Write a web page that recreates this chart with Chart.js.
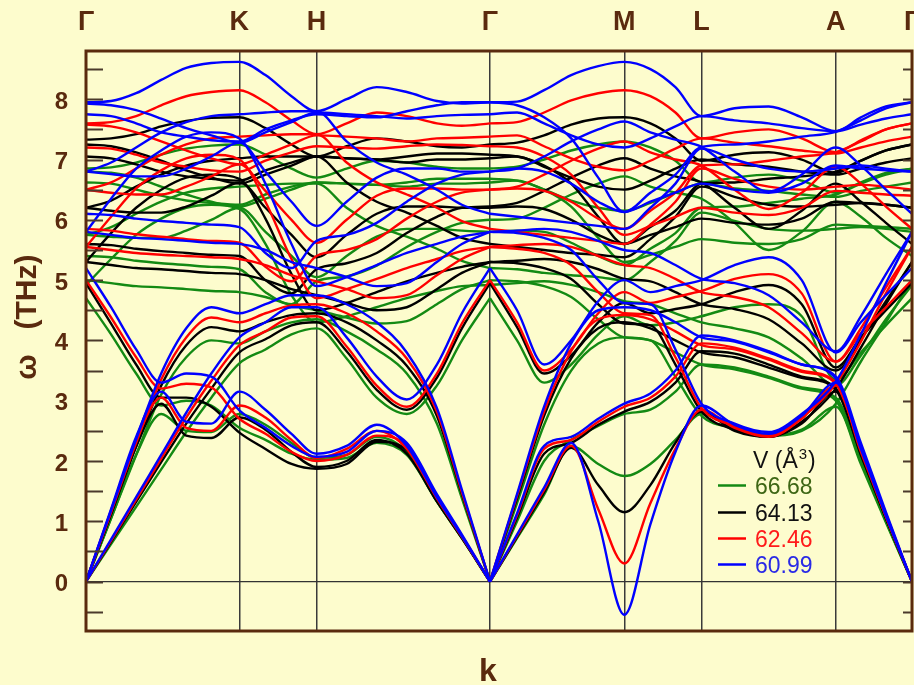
<!DOCTYPE html>
<html>
<head>
<meta charset="utf-8">
<style>
  html, body { margin: 0; padding: 0; background: #fdfccd; }
  canvas { display: block; }
</style>
</head>
<body>
<canvas id="bands" width="914" height="685"></canvas>
<script src="https://cdn.jsdelivr.net/npm/chart.js"></script>
<script>
// sample points along the k-path (path length, arbitrary units)
const kPath = [0,25,50,75,100,125,153, 179,205,230, 260,290,320,350,375,403, 430,457,484,511,537, 563,588,614, 647,681,714,748, 773,798,824];
const symPoints = [0,153,230,403,537,614,748,824];
const symLabels = ['Γ','K','H','Γ','M','L','A','Γ'];
const yTicks = [0,1,2,3,4,5,6,7,8];

// V = 60.99 A^3
const bandsBlue = [
  [0,0.7,1.4,2.1,2.8,3.45,4.05, 4.3,4.55,4.55, 4.05,3.4,3.02,3.6,4.45,5.2, 4.5,3.6,4.0,4.65,5.0, 4.8,4.9,5.0, 5.25,5.38,5.0,3.8, 4.3,4.75,5.2],
  [0,1.18,2.36,3.45,4.2,4.55,4.45, 4.6,4.75,4.75, 4.6,4.3,3.8,2.88,1.52,0, 1.45,2.9,3.95,4.5,4.55, 4.5,4.3,4.05, 3.98,3.8,3.6,3.37, 2.25,1.1,0],
  [0,1.2,2.4,3.15,2.65,2.62,3.15, 2.85,2.45,2.12, 2.25,2.6,2.25,1.4,0.75,0, 1.13,2.25,2.4,2.7,2.95, 3.12,3.5,4.08, 4.0,3.82,3.6,3.4, 2.3,1.15,0],
  [5.2,4.55,3.85,3.3,3.45,3.4,2.84, 2.55,2.25,2.07, 2.15,2.5,2.3,1.45,0.78,0, 0.78,1.56,2.3,1.0,-0.55, 0.95,2.15,2.92, 2.6,2.45,2.75,3.3, 2.2,1.1,0],
  [7.95,7.97,8.1,8.32,8.52,8.6,8.62, 8.4,8.05,7.8, 8.0,8.2,8.12,7.97,7.93,7.95, 7.96,8.15,8.4,8.55,8.62, 8.5,8.2,7.72, 7.85,7.88,7.7,7.47, 7.7,7.88,7.95],
  [7.93,7.9,7.82,7.68,7.52,7.4,7.28, 7.45,7.62,7.78, 7.75,7.72,7.68,7.72,7.74,7.75, 7.78,7.6,7.4,7.25,7.2, 7.35,7.55,7.72, 7.65,7.6,7.52,7.47, 7.58,7.68,7.75],
  [6.1,6.08,6.02,5.98,5.95,5.92,5.88, 5.45,5.2,5.65, 5.75,5.95,6.3,6.6,6.75,6.8, 6.85,7.05,7.3,7.5,7.63, 7.45,7.33,7.21, 6.8,6.47,6.75,7.2, 6.9,6.5,6.1],
  [6.8,6.76,6.72,6.72,6.85,7.05,7.28, 6.8,6.3,5.9, 6.3,6.7,6.85,6.85,6.8,6.8, 6.85,6.8,6.6,6.3,6.13, 6.45,6.75,7.21, 7.25,7.3,7.38,7.46, 7.65,7.85,7.95],
  [6.8,6.95,7.2,7.45,7.62,7.72,7.75, 7.78,7.8,7.8, 7.3,6.95,6.75,6.5,6.25,6.1, 6.05,6.0,5.95,5.9,5.85, 6.2,6.6,7.18, 7.0,6.85,6.8,6.85, 6.9,6.85,6.8],
  [7.75,7.72,7.6,7.45,7.38,7.32,7.3, 7.5,7.65,7.75, 7.72,7.7,7.8,7.9,7.95,7.95, 7.9,7.7,7.35,6.7,6.13, 6.3,6.45,6.6, 6.5,6.45,6.6,6.9, 6.85,6.82,6.8],
  [5.8,5.75,5.7,5.68,5.65,5.62,5.6, 5.5,5.3,5.2, 5.05,4.9,4.95,5.3,5.6,5.8, 5.78,5.7,5.5,5.0,4.62, 4.6,3.85,2.95, 2.62,2.48,2.78,3.32, 4.1,4.95,5.8],
  [5.8,6.35,6.85,7.15,7.38,7.45,7.35, 6.6,5.6,4.9, 5.05,5.25,5.45,5.6,5.72,5.8, 5.82,5.85,5.8,5.65,5.5, 5.45,5.25,5.02, 4.95,4.75,4.3,3.82, 4.4,5.1,5.8]
];

// V = 62.46 A^3
const bandsRed = [
  [0,0.68,1.36,2.04,2.72,3.33,3.92, 4.15,4.38,4.4, 3.9,3.25,2.9,3.45,4.28,5.0, 4.3,3.5,3.85,4.45,4.8, 4.62,4.72,4.82, 5.02,5.1,4.78,3.65, 4.12,4.55,5.0],
  [0,1.15,2.3,3.35,4.05,4.38,4.3, 4.45,4.58,4.6, 4.45,4.15,3.7,2.82,1.48,0, 1.42,2.82,3.82,4.35,4.42, 4.35,4.15,3.92, 3.85,3.68,3.48,3.28, 2.2,1.08,0],
  [0,1.17,2.34,3.05,2.55,2.5,2.92, 2.72,2.35,2.05, 2.2,2.5,2.2,1.38,0.74,0, 1.1,2.2,2.35,2.65,2.9, 3.05,3.4,3.95, 3.88,3.7,3.5,3.3, 2.22,1.12,0],
  [5.0,4.38,3.72,3.2,3.28,3.22,2.7, 2.45,2.15,2.0, 2.1,2.42,2.25,1.42,0.76,0, 0.76,1.52,2.25,1.2,0.3, 1.3,2.2,2.85, 2.55,2.4,2.7,3.25, 2.15,1.08,0],
  [7.6,7.62,7.72,7.9,8.05,8.12,8.15, 7.95,7.65,7.42, 7.6,7.78,7.72,7.6,7.56,7.6, 7.62,7.78,7.98,8.1,8.15, 8.05,7.78,7.35, 7.45,7.5,7.35,7.12, 7.32,7.5,7.6],
  [7.58,7.55,7.45,7.3,7.15,7.02,6.92, 7.08,7.25,7.4, 7.38,7.35,7.3,7.35,7.36,7.38, 7.4,7.22,7.02,6.88,6.82, 6.98,7.18,7.35, 7.28,7.22,7.15,7.1, 7.2,7.3,7.38],
  [5.85,5.82,5.76,5.72,5.68,5.65,5.62, 5.22,4.98,5.4, 5.5,5.68,6.02,6.3,6.45,6.5, 6.55,6.75,6.98,7.18,7.3, 7.12,7.0,6.9, 6.5,6.18,6.45,6.88, 6.6,6.22,5.85],
  [6.5,6.45,6.42,6.42,6.55,6.72,6.92, 6.48,6.0,5.62, 6.0,6.4,6.52,6.52,6.5,6.5, 6.52,6.48,6.3,6.02,5.85, 6.15,6.45,6.9, 6.92,6.98,7.05,7.12, 7.3,7.5,7.6],
  [6.5,6.62,6.85,7.08,7.25,7.35,7.38, 7.4,7.42,7.42, 6.95,6.62,6.42,6.2,5.98,5.85, 5.8,5.75,5.7,5.65,5.6, 5.92,6.3,6.85, 6.68,6.55,6.5,6.55, 6.58,6.55,6.5],
  [7.2,7.18,7.08,6.95,6.88,6.82,6.8, 6.98,7.12,7.22, 7.2,7.18,7.22,7.25,7.24,7.22, 7.2,7.05,6.75,6.2,5.75, 5.9,6.05,6.2, 6.12,6.08,6.2,6.48, 6.45,6.42,6.4],
  [5.55,5.5,5.45,5.42,5.4,5.38,5.35, 5.25,5.08,4.98, 4.85,4.7,4.75,5.08,5.35,5.55, 5.52,5.45,5.25,4.8,4.45, 4.42,3.72,2.88, 2.58,2.42,2.72,3.28, 3.98,4.78,5.55],
  [5.55,6.05,6.52,6.82,7.02,7.08,7.0, 6.3,5.35,4.7, 4.85,5.02,5.2,5.35,5.48,5.55, 5.58,5.6,5.55,5.4,5.25, 5.2,5.02,4.8, 4.72,4.55,4.12,3.65, 4.2,4.88,5.55]
];

// V = 64.13 A^3
const bandsBlack = [
  [0,0.66,1.32,1.98,2.62,3.2,3.8, 4.02,4.25,4.3, 3.82,3.18,2.85,3.38,4.2,4.95, 4.22,3.45,3.75,4.3,4.62, 4.45,4.52,4.6, 4.8,4.92,4.6,3.55, 4.05,4.5,4.95],
  [0,1.12,2.24,3.25,3.92,4.22,4.15, 4.3,4.42,4.45, 4.3,4.0,3.58,2.75,1.45,0, 1.38,2.75,3.7,4.2,4.3, 4.2,4.0,3.8, 3.72,3.55,3.38,3.18, 2.12,1.05,0],
  [0,1.12,2.24,2.95,2.42,2.38,2.72, 2.52,2.15,1.9, 2.0,2.35,2.12,1.33,0.72,0, 1.06,2.12,2.3,2.6,2.82, 2.98,3.3,3.82, 3.78,3.6,3.4,3.2, 2.15,1.08,0],
  [4.95,4.28,3.6,3.05,3.05,2.9,2.47, 2.2,1.95,1.87, 1.95,2.32,2.18,1.38,0.74,0, 0.74,1.48,2.22,1.6,1.15, 1.6,2.3,2.82, 2.5,2.4,2.62,3.15, 2.1,1.05,0],
  [7.33,7.35,7.42,7.55,7.64,7.69,7.7, 7.52,7.25,7.05, 7.22,7.35,7.3,7.22,7.2,7.25, 7.28,7.4,7.58,7.68,7.7, 7.6,7.35,6.98, 7.08,7.12,7.0,6.78, 6.98,7.15,7.25],
  [7.25,7.22,7.12,6.98,6.82,6.7,6.6, 6.75,6.9,7.05, 7.02,7.0,6.95,7.0,7.0,7.02, 7.05,6.88,6.7,6.55,6.5, 6.65,6.85,7.0, 6.92,6.88,6.8,6.75, 6.85,6.95,7.02],
  [5.6,5.58,5.52,5.48,5.45,5.42,5.4, 5.0,4.78,5.18, 5.28,5.45,5.78,6.05,6.2,6.22, 6.28,6.48,6.7,6.9,7.02, 6.85,6.72,6.62, 6.2,5.85,6.15,6.6, 6.3,5.95,5.6],
  [6.2,6.15,6.12,6.12,6.22,6.4,6.62, 6.2,5.75,5.38, 5.75,6.1,6.22,6.22,6.2,6.2, 6.22,6.18,6.0,5.75,5.6, 5.88,6.15,6.6, 6.62,6.68,6.72,6.8, 6.98,7.15,7.25],
  [6.2,6.32,6.55,6.75,6.9,6.98,7.02, 7.05,7.05,7.05, 6.62,6.3,6.12,5.9,5.7,5.6, 5.55,5.5,5.45,5.42,5.38, 5.68,6.05,6.55, 6.38,6.25,6.22,6.25, 6.28,6.25,6.2],
  [7.05,7.02,6.92,6.8,6.72,6.68,6.65, 6.82,6.95,7.05, 7.02,7.0,7.05,7.1,7.1,7.08, 7.05,6.9,6.6,6.05,5.6, 5.75,5.88,6.02, 5.95,5.92,6.02,6.3, 6.28,6.25,6.2],
  [5.3,5.25,5.2,5.18,5.15,5.12,5.1, 5.0,4.85,4.75, 4.62,4.5,4.55,4.85,5.12,5.3, 5.28,5.2,5.02,4.6,4.28, 4.25,3.6,2.82, 2.52,2.4,2.65,3.2, 3.88,4.6,5.3],
  [5.3,5.78,6.2,6.5,6.7,6.75,6.68, 6.02,5.1,4.5, 4.62,4.8,4.98,5.12,5.22,5.3, 5.32,5.35,5.3,5.18,5.02, 4.98,4.8,4.6, 4.52,4.35,3.95,3.5, 4.02,4.65,5.3]
];

// V = 66.68 A^3
const bandsGreen = [
  [0,0.62,1.24,1.86,2.48,3.05,3.62, 3.85,4.1,4.2, 3.7,3.05,2.78,3.25,4.0,4.7, 4.0,3.3,3.6,4.1,4.4, 4.25,4.3,4.4, 4.55,4.6,4.4,3.35, 3.8,4.25,4.7],
  [0,1.05,2.1,3.1,3.72,4.0,3.95, 4.15,4.3,4.35, 4.15,3.85,3.45,2.62,1.38,0, 1.3,2.6,3.5,3.95,4.05, 4.0,3.8,3.6, 3.52,3.38,3.2,3.0, 2.0,1.0,0],
  [0,1.05,2.1,2.78,2.5,2.48,2.78, 2.6,2.3,2.05, 2.1,2.4,2.15,1.33,0.72,0, 1.0,2.0,2.35,2.58,2.78, 2.85,3.15,3.6, 3.55,3.4,3.22,3.05, 2.05,1.02,0],
  [4.7,4.1,3.45,2.92,3.0,2.92,2.55, 2.35,2.12,2.02, 2.05,2.3,2.1,1.33,0.72,0, 0.72,1.44,2.25,1.95,1.75, 1.95,2.35,2.78, 2.55,2.42,2.52,2.9, 1.95,0.98,0],
  [6.85,6.87,6.95,7.08,7.18,7.23,7.25, 7.08,6.85,6.7, 6.85,6.98,6.95,6.88,6.85,6.85, 6.88,7.0,7.15,7.25,7.3, 7.2,6.98,6.62, 6.7,6.75,6.65,6.45, 6.62,6.78,6.85],
  [6.8,6.78,6.7,6.55,6.42,6.3,6.22, 6.35,6.5,6.62, 6.6,6.58,6.55,6.6,6.6,6.62, 6.65,6.5,6.32,6.2,6.15, 6.28,6.45,6.6, 6.52,6.48,6.42,6.38, 6.48,6.55,6.62],
  [5.4,5.38,5.32,5.28,5.25,5.22,5.18, 4.8,4.6,4.98, 5.06,5.24,5.55,5.8,5.95,6.0, 6.02,6.2,6.42,6.6,6.72, 6.55,6.45,6.35, 5.95,5.5,5.8,6.3, 6.05,5.7,5.4],
  [5.75,5.72,5.7,5.7,5.82,6.0,6.2, 5.8,5.4,5.05, 5.4,5.72,5.85,5.85,5.82,5.8, 5.82,5.8,5.62,5.4,5.25, 5.52,5.78,6.2, 6.22,6.28,6.35,6.42, 6.6,6.75,6.85],
  [5.75,5.88,6.1,6.3,6.45,6.52,6.55, 6.58,6.6,6.6, 6.2,5.9,5.72,5.52,5.32,5.2, 5.18,5.12,5.08,5.05,5.0, 5.3,5.65,6.12, 5.98,5.85,5.82,5.85, 5.88,5.85,5.8],
  [6.62,6.6,6.5,6.4,6.32,6.28,6.25, 6.42,6.55,6.62, 6.6,6.58,6.62,6.68,6.68,6.68, 6.65,6.5,6.22,5.7,5.3, 5.42,5.55,5.68, 5.62,5.6,5.68,5.92, 5.9,5.88,5.85],
  [5.0,4.95,4.9,4.88,4.85,4.82,4.8, 4.72,4.58,4.5, 4.38,4.28,4.32,4.6,4.85,5.0, 4.98,4.9,4.72,4.35,4.05, 4.0,3.4,2.75, 2.55,2.42,2.5,2.95, 3.65,4.3,5.0],
  [4.92,5.35,5.75,6.02,6.2,6.25,6.18, 5.6,4.75,4.3, 4.4,4.55,4.7,4.82,4.9,4.92, 4.95,4.98,4.92,4.8,4.65, 4.6,4.45,4.3, 4.2,4.05,3.7,3.25, 3.75,4.35,4.92]
];

const brown = '#5a2a0e';
const volumes = [
  {label: '66.68', line: '#138a13', text: '#3d6614', bands: bandsGreen},
  {label: '64.13', line: '#000000', text: '#111111', bands: bandsBlack},
  {label: '62.46', line: '#ff0000', text: '#ff1a1a', bands: bandsRed},
  {label: '60.99', line: '#0000ff', text: '#2a2ae6', bands: bandsBlue}
];

// split each band at the middle Γ so the acoustic branches keep their sharp V
const chunks = [[0, 15], [15, 30]];
const datasets = [];
volumes.slice().reverse().forEach(v => {
  v.bands.forEach(b => {
    chunks.forEach(([i0, i1]) => {
      datasets.push({
        data: kPath.slice(i0, i1 + 1).map((x, j) => ({x: x, y: b[i0 + j]})),
        borderColor: v.line,
        borderWidth: 2.4,
        pointRadius: 0,
        fill: false,
        cubicInterpolationMode: 'monotone'
      });
    });
  });
});

const decor = {
  id: 'decor',
  beforeDraw(chart) {
    const ctx = chart.ctx;
    ctx.save();
    ctx.fillStyle = '#fdfccd';
    ctx.fillRect(0, 0, chart.width, chart.height);
    ctx.restore();
  },
  afterDraw(chart) {
    const {ctx, chartArea: a} = chart;
    const y = chart.scales.y;
    ctx.save();
    // inward ticks every 0.5
    ctx.strokeStyle = '#4b3a2c';
    ctx.lineWidth = 2;
    for (let i = -1; i <= 17; i++) {
      const py = Math.round(y.getPixelForValue(i / 2)) + 0.5;
      ctx.beginPath();
      ctx.moveTo(a.left, py); ctx.lineTo(a.left + 17, py);
      ctx.moveTo(a.right, py); ctx.lineTo(a.right - 9, py);
      ctx.stroke();
    }
    // frame
    ctx.strokeStyle = brown;
    ctx.lineWidth = 3;
    ctx.strokeRect(a.left, a.top, a.right - a.left, a.bottom - a.top);

    // axis titles
    ctx.fillStyle = brown;
    ctx.font = 'bold 30px "Liberation Sans"';
    ctx.textAlign = 'center';
    ctx.textBaseline = 'middle';
    ctx.save();
    ctx.translate(28, 367);
    ctx.rotate(-Math.PI / 2);
    ctx.fillText('ω', 0, 0);
    ctx.restore();
    ctx.save();
    ctx.translate(28, 292);
    ctx.rotate(-Math.PI / 2);
    ctx.fillText('(THz)', 0, 0);
    ctx.restore();
    ctx.font = 'bold 32px "Liberation Sans"';
    ctx.textBaseline = 'alphabetic';
    ctx.fillText('k', 488, 681);

    // legend
    ctx.textAlign = 'left';
    ctx.font = '23px "Liberation Sans"';
    ctx.fillStyle = '#111111';
    ctx.fillText('V (Å', 753, 468);
    let px = 753 + ctx.measureText('V (Å').width + 1;
    ctx.font = '15px "Liberation Sans"';
    ctx.fillText('3', px, 459);
    px += ctx.measureText('3').width + 1;
    ctx.font = '23px "Liberation Sans"';
    ctx.fillText(')', px, 468);
    const base = [494, 521, 547, 573];
    volumes.forEach((v, i) => {
      ctx.strokeStyle = v.line;
      ctx.lineWidth = 2.5;
      ctx.beginPath();
      ctx.moveTo(718, base[i] - 8.5);
      ctx.lineTo(746, base[i] - 8.5);
      ctx.stroke();
      ctx.fillStyle = v.text;
      ctx.fillText(v.label, 755, base[i]);
    });
    ctx.restore();
  }
};

new Chart(document.getElementById('bands'), {
  type: 'line',
  data: {datasets: datasets},
  options: {
    responsive: false,
    animation: false,
    layout: {padding: {left: 0, right: 2, top: 0, bottom: 54}},
    plugins: {legend: {display: false}, tooltip: {enabled: false}},
    scales: {
      x: {
        type: 'linear',
        position: 'top',
        min: 0,
        max: 824,
        afterBuildTicks: axis => { axis.ticks = symPoints.map(v => ({value: v})); },
        afterFit: s => { s.height = 51; s.paddingLeft = 0; s.paddingRight = 0; },
        ticks: {
          autoSkip: false,
          maxRotation: 0,
          padding: 12,
          color: brown,
          font: {family: 'Liberation Sans', size: 27, weight: 'bold'},
          callback: v => symLabels[symPoints.indexOf(v)]
        },
        grid: {color: '#3a3a3a', lineWidth: 1.5, drawTicks: false},
        border: {display: false}
      },
      y: {
        min: -0.82,
        max: 8.8,
        afterBuildTicks: axis => { axis.ticks = yTicks.map(v => ({value: v})); },
        afterFit: s => { s.width = 86; s.paddingTop = 0; s.paddingBottom = 0; },
        ticks: {
          padding: 18,
          labelOffset: 3,
          color: brown,
          font: {family: 'Liberation Sans', size: 24, weight: 'bold'},
          callback: v => String(v)
        },
        grid: {
          color: c => (c.tick && c.tick.value === 0) ? '#333333' : 'rgba(0,0,0,0)',
          lineWidth: 1.2,
          drawTicks: false
        },
        border: {display: false}
      }
    }
  },
  plugins: [decor]
});
</script>
</body>
</html>
